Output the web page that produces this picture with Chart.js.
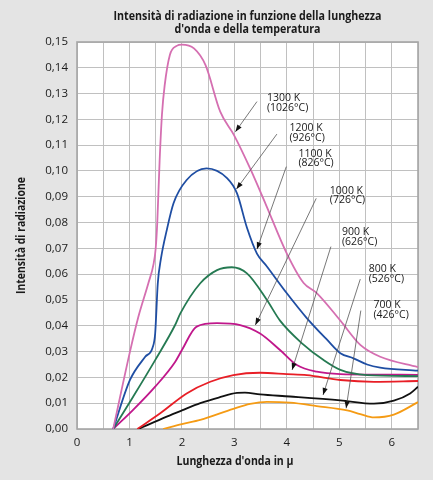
<!DOCTYPE html>
<html>
<head>
<meta charset="utf-8">
<script src="https://cdn.jsdelivr.net/npm/chart.js@4.4.1/dist/chart.umd.min.js"></script>
<style>
  html, body { margin: 0; padding: 0; background: #e4e4e4; }
  #wrap { width: 433px; height: 480px; position: relative; }
</style>
</head>
<body>
<div id="wrap"><canvas id="radChart"></canvas></div>
<script>
// wavelength (µ) and intensity for each temperature
const wl1300 = [0.69, 1.01, 1.17, 1.36, 1.46, 1.50, 1.53, 1.575, 1.62, 1.67, 1.77, 1.9, 2.0, 2.23, 2.45, 2.73, 2.99, 3.3, 3.6, 4.0, 4.32, 4.57, 5.02, 5.4, 5.78, 6.5];
const int1300 = [0, 0.030, 0.0435, 0.0565, 0.064, 0.070, 0.080, 0.104, 0.122, 0.133, 0.145, 0.1485, 0.149, 0.1475, 0.141, 0.123, 0.114, 0.101, 0.087, 0.068, 0.0566, 0.0527, 0.042, 0.0326, 0.028, 0.024];

const wl1200 = [0.69, 1.01, 1.30, 1.44, 1.49, 1.54, 1.60, 1.71, 1.84, 2.09, 2.47, 2.86, 3.05, 3.24, 3.43, 3.62, 4.0, 4.38, 4.77, 5.02, 5.27, 5.53, 5.78, 6.5];
const int1200 = [0, 0.019, 0.028, 0.0315, 0.037, 0.0565, 0.066, 0.077, 0.0875, 0.0965, 0.101, 0.0972, 0.0913, 0.078, 0.068, 0.063, 0.0526, 0.043, 0.0345, 0.0294, 0.0274, 0.025, 0.0238, 0.0226];

const wl1100 = [0.69, 1.07, 1.49, 1.87, 1.97, 2.35, 2.67, 2.95, 3.24, 3.62, 3.87, 4.3, 4.7, 5.02, 5.53, 6.5];
const int1100 = [0, 0.0125, 0.0267, 0.0403, 0.0448, 0.0565, 0.0616, 0.0627, 0.0603, 0.050, 0.042, 0.033, 0.0267, 0.0229, 0.0209, 0.0205];

const wl1000 = [0.69, 1.07, 1.49, 1.87, 2.0, 2.28, 2.67, 3.11, 3.49, 3.87, 4.19, 4.57, 5.02, 6.5];
const int1000 = [0, 0.0074, 0.0164, 0.026, 0.0306, 0.0397, 0.041, 0.0403, 0.037, 0.0306, 0.0248, 0.0222, 0.0213, 0.021];

const wl900 = [1.15, 1.58, 2.09, 2.54, 2.98, 3.49, 4.0, 4.38, 5.02, 5.66, 6.5];
const int900 = [0, 0.006, 0.0138, 0.0183, 0.0209, 0.0218, 0.0213, 0.0209, 0.019, 0.0183, 0.0186];

const wl800 = [1.17, 1.71, 2.0, 2.35, 2.7, 3.05, 3.2, 3.49, 4.06, 5.02, 5.66, 6.04, 6.35, 6.5];
const int800 = [0, 0.0048, 0.0072, 0.0100, 0.0122, 0.0140, 0.0141, 0.0134, 0.0126, 0.0111, 0.0098, 0.0110, 0.0138, 0.0164];

const wl700 = [1.64, 2.0, 2.35, 2.98, 3.3, 3.62, 4.06, 4.57, 5.15, 5.4, 5.66, 6.04, 6.5];
const int700 = [0, 0.0019, 0.0035, 0.0078, 0.0097, 0.0105, 0.0102, 0.0089, 0.0072, 0.0058, 0.0045, 0.0056, 0.0104];

const xTickLabels = ['0', '1', '2', '3', '4', '5', '6'];
const yTickLabels = ['0,00', '0,01', '0,02', '0,03', '0,04', '0,05', '0,06', '0,07', '0,08', '0,09', '0,10', '0,11', '0,12', '0,13', '0,14', '0,15'];

// callouts: text and where the arrow starts / points to (in data units)
const kelvinLabels = ['1300 K', '1200 K', '1100 K', '1000 K', '900 K', '800 K', '700 K'];
const celsiusLabels = ['(1026°C)', '(926°C)', '(826°C)', '(726°C)', '(626°C)', '(526°C)', '(426°C)'];
const labelX = [3.62, 4.05, 4.22, 4.82, 5.05, 5.56, 5.65];
const labelY = [0.1283, 0.1167, 0.1067, 0.0924, 0.0764, 0.0619, 0.0479];
const arrowFromX = [3.43, 3.81, 3.99, 4.56, 4.84, 5.40, 5.41];
const arrowFromY = [0.1269, 0.1143, 0.1017, 0.0894, 0.0707, 0.0581, 0.0459];
const arrowToX = [3.02, 3.04, 3.43, 3.40, 4.10, 4.69, 5.13];
const arrowToY = [0.1152, 0.0930, 0.0697, 0.0403, 0.0229, 0.0132, 0.0080];

const seriesColors = ['#d56fb1', '#1f4ea3', '#257a52', '#c0178b', '#e81e26', '#111111', '#f59b14'];

function pts(xs, ys) {
    return xs.map((x, i) => ({ x: x, y: ys[i] }));
}

function drawArrow(ctx, x1, y1, x2, y2) {
    ctx.save();
    ctx.strokeStyle = '#555';
    ctx.lineWidth = 0.8;
    ctx.beginPath();
    ctx.moveTo(x1, y1);
    ctx.lineTo(x2, y2);
    ctx.stroke();
    const a = Math.atan2(y2 - y1, x2 - x1);
    const len = 7, w = 2.6;
    ctx.beginPath();
    ctx.moveTo(x2, y2);
    ctx.lineTo(x2 - len * Math.cos(a) + w * Math.sin(a), y2 - len * Math.sin(a) - w * Math.cos(a));
    ctx.lineTo(x2 - len * Math.cos(a) - w * Math.sin(a), y2 - len * Math.sin(a) + w * Math.cos(a));
    ctx.closePath();
    ctx.fillStyle = '#111';
    ctx.fill();
    ctx.restore();
}

const decor = {
    id: 'decor',
    beforeDraw(chart) {
        const { ctx, chartArea: a } = chart;
        ctx.save();
        ctx.fillStyle = '#e4e4e4';
        ctx.fillRect(0, 0, chart.width, chart.height);
        ctx.fillStyle = '#ffffff';
        ctx.fillRect(a.left, a.top, a.right - a.left, a.bottom - a.top);
        ctx.restore();
    },
    beforeDatasetsDraw(chart) {
        const { ctx, chartArea: a } = chart;
        ctx.save();
        ctx.strokeStyle = '#a6a6a6';
        ctx.lineWidth = 1.6;
        ctx.strokeRect(a.left, a.top, a.right - a.left, a.bottom - a.top);
        ctx.restore();
    },
    afterDatasetsDraw(chart) {
        const { ctx, chartArea: a, scales: { x, y } } = chart;
        for (let i = 0; i < kelvinLabels.length; i++) {
            drawArrow(ctx, x.getPixelForValue(arrowFromX[i]), y.getPixelForValue(arrowFromY[i]),
                x.getPixelForValue(arrowToX[i]), y.getPixelForValue(arrowToY[i]));
        }
        ctx.save();
        ctx.fillStyle = '#1a1a1a';
        ctx.font = '10.5px "Open Sans"';
        ctx.textAlign = 'left';
        ctx.textBaseline = 'middle';
        for (let i = 0; i < kelvinLabels.length; i++) {
            const px = x.getPixelForValue(labelX[i]);
            const py = y.getPixelForValue(labelY[i]);
            ctx.fillText(kelvinLabels[i], px, py);
            ctx.fillText(celsiusLabels[i], px, py + 9.7);
        }
        // titles
        ctx.fillStyle = '#1a1a1a';
        ctx.textAlign = 'center';
        ctx.font = 'bold 11.5px "Open Sans"';
        const cx = (a.left + a.right) / 2;
        ctx.fillText('Intensità di radiazione in funzione della lunghezza', cx, 17, 268);
        ctx.fillText("d'onda e della temperatura", cx, 30, 146);
        ctx.fillText("Lunghezza d'onda in µ", 235, 462, 117);
        ctx.translate(21.7, (a.top + a.bottom) / 2);
        ctx.rotate(-Math.PI / 2);
        ctx.fillText('Intensità di radiazione', 0, 0, 117);
        ctx.restore();
    }
};

const temps = ['1300 K', '1200 K', '1100 K', '1000 K', '900 K', '800 K', '700 K'];
const allWl = [wl1300, wl1200, wl1100, wl1000, wl900, wl800, wl700];
const allInt = [int1300, int1200, int1100, int1000, int900, int800, int700];

new Chart(document.getElementById('radChart').getContext('2d'), {
    type: 'line',
    data: {
        datasets: temps.map((t, i) => ({
            label: t,
            data: pts(allWl[i], allInt[i]),
            borderColor: seriesColors[i],
            borderWidth: 1.8,
            pointRadius: 0,
            fill: false,
            cubicInterpolationMode: 'monotone'
        }))
    },
    options: {
        responsive: true,
        maintainAspectRatio: false,
        animation: false,
        layout: { padding: { left: 0, right: 15, top: 42, bottom: 0 } },
        plugins: {
            legend: { display: false },
            tooltip: { enabled: false },
            title: { display: false }
        },
        scales: {
            x: {
                type: 'linear',
                min: 0,
                max: 6.5,
                afterFit(scale) { scale.height = 51; },
                grid: { color: '#c0c0c0', lineWidth: 1, drawTicks: false },
                border: { display: false },
                ticks: {
                    stepSize: 0.5,
                    autoSkip: false,
                    maxRotation: 0,
                    padding: 7,
                    color: '#1a1a1a',
                    font: { family: 'Open Sans', size: 11.5 },
                    callback: (v) => Number.isInteger(v) ? xTickLabels[v] : ''
                }
            },
            y: {
                min: 0,
                max: 0.15,
                afterFit(scale) { scale.width = 77; },
                grid: { color: '#c0c0c0', lineWidth: 1, drawTicks: false },
                border: { display: false },
                ticks: {
                    stepSize: 0.01,
                    padding: 9,
                    color: '#1a1a1a',
                    font: { family: 'Open Sans', size: 11.5 },
                    callback: (v) => yTickLabels[Math.round(v * 100)]
                }
            }
        }
    },
    plugins: [decor]
});
</script>
</body>
</html>
